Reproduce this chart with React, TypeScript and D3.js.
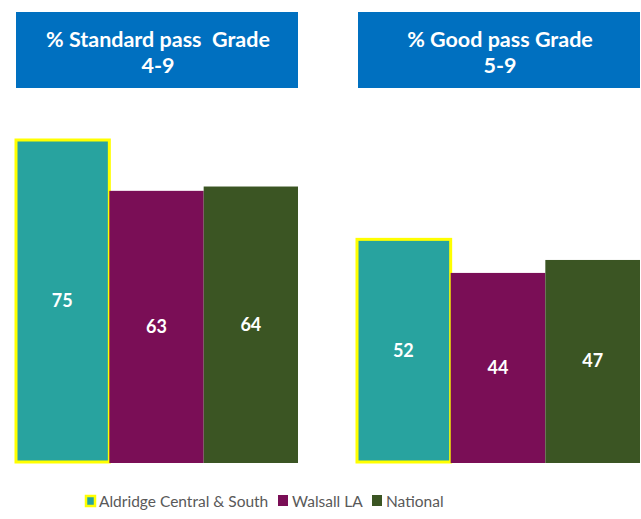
import React from "react";
import * as d3 from "d3";

const groups = ["% Standard pass  Grade|4-9", "% Good pass Grade|5-9"];
const series = ["Aldridge Central & South", "Walsall LA", "National"];
const standardValues = [75, 63, 64];
const goodValues = [52, 44, 47];
const colors = ["#28A39F", "#7A0E56", "#3B5523"];

export default function App() {
  const W = 641, H = 519;
  const baseline = 463;
  const y = d3.scaleLinear().domain([0, 100]).range([baseline, baseline - 432]);
  const groupRanges: [number, number][] = [[15, 298], [356, 640]];
  const valueSets = [standardValues, goodValues];
  const boxRanges: [number, number][] = [[16, 298], [358, 640]];
  const font = "Lato, 'Open Sans', sans-serif";

  return (
    <svg width={W} height={H} style={{ position: "absolute", left: 0, top: 0, background: "#fff" }}>
      {groups.map((g, gi) => {
        const [l1, l2] = g.split("|");
        const [bx0, bx1] = boxRanges[gi];
        const x = d3.scaleBand<string>().domain(series).range(groupRanges[gi]).padding(0);
        const vals = valueSets[gi];
        return (
          <g key={gi}>
            <rect x={bx0} y={12} width={bx1 - bx0} height={76} fill="#0070C0" />
            <text x={(bx0 + bx1) / 2 + 1} y={47} textAnchor="middle" fill="#fff" fontFamily={font} fontWeight="bold" fontSize={21.5} style={{ whiteSpace: "pre" }}>{l1}</text>
            <text x={(bx0 + bx1) / 2 + 1} y={73} textAnchor="middle" fill="#fff" fontFamily={font} fontWeight="bold" fontSize={21.5}>{l2}</text>
            {series.map((s, si) => {
              const x0 = x(s)!;
              const w = x.bandwidth();
              const yt = y(vals[si]);
              return (
                <g key={s}>
                  <rect x={x0} y={yt} width={w} height={baseline - yt} fill={colors[si]} />
                  {si === 0 && (
                    <rect x={x0 + 1} y={yt + 1} width={w - 1} height={baseline - yt - 2} fill="none" stroke="#FFFF00" strokeWidth={3} />
                  )}
                  <text x={x0 + w / 2} y={(yt + baseline) / 2 + 6} textAnchor="middle" fill="#fff" fontFamily={font} fontWeight="bold" fontSize={18}>{vals[si]}</text>
                </g>
              );
            })}
          </g>
        );
      })}
      {(() => {
        const items = [
          { x: 85, label: series[0], c: colors[0], border: true },
          { x: 278, label: series[1], c: colors[1], border: false },
          { x: 372, label: series[2], c: colors[2], border: false },
        ];
        return items.map((it, i) => (
          <g key={i}>
            {it.border ? (
              <rect x={it.x + 1} y={496} width={9} height={10} fill={it.c} stroke="#FFFF00" strokeWidth={2.5} />
            ) : (
              <rect x={it.x} y={495} width={10} height={11} fill={it.c} />
            )}
            <text x={it.x + 14} y={507} fill="#595959" fontFamily={font} fontSize={15.5}>{it.label}</text>
          </g>
        ));
      })()}
    </svg>
  );
}
